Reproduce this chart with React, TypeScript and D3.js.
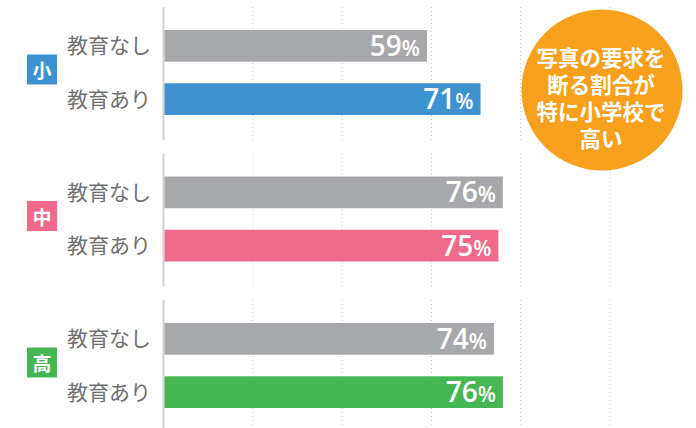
import React from "react";
import * as d3 from "d3";

const groups = ["小", "中", "高"];
const groupColors = ["#3d92cf", "#f06b8b", "#46b653"];
const rowLabels = ["教育なし", "教育あり"];
const withoutEdu = [59, 76, 74];
const withEdu = [71, 75, 76];
const xTicks = [20, 40, 60, 80, 100];
const calloutLines = ["写真の要求を", "断る割合が", "特に小学校で", "高い"];

const W = 696;
const H = 428;
const GREY = "#a7a8ab";
const JP = "'Noto Sans CJK JP', 'Noto Sans', sans-serif";
const NUM = "'Open Sans', 'Noto Sans', sans-serif";

export default function App() {
  const x = d3.scaleLinear().domain([0, 100]).range([163.5, 610]);
  const groupTop = d3.scaleLinear().domain([0, groups.length - 1]).range([30, 323]);
  const row = d3.scaleBand<string>().domain(rowLabels).range([0, 85]).paddingInner(0.405).paddingOuter(0);
  const bw = row.bandwidth();

  return (
    <svg width={W} height={H} style={{ position: "absolute", left: 0, top: 0, background: "#fff" }}>
      {groups.map((g, gi) => {
        const top = groupTop(gi);
        const segTop = top - 23;
        const segBot = top + 110;
        const vals = [withoutEdu[gi], withEdu[gi]];
        const colors = [GREY, groupColors[gi]];
        const badgeCy = top + 85 / 2 - 3;
        return (
          <g key={g}>
            {xTicks.map((t) => (
              <line key={t} x1={x(t)} x2={x(t)} y1={segTop} y2={segBot} stroke="#c4c4c4" strokeWidth={1} strokeDasharray="1 3" />
            ))}
            <line x1={x(0)} x2={x(0)} y1={segTop} y2={segBot} stroke="#d2d2d2" strokeWidth={2} />
            {rowLabels.map((r, ri) => {
              const y0 = top + (row(r) as number);
              const cy = y0 + bw / 2;
              return (
                <g key={r}>
                  <rect x={x(0) + 1} y={y0} width={x(vals[ri]) - x(0) - 1} height={bw} fill={colors[ri]} />
                  <text x={151} y={cy - 1.5} textAnchor="end" dominantBaseline="central" fontFamily={JP} fontSize={21} fill="#707070">
                    {r}
                  </text>
                  <text x={x(vals[ri]) - 7} y={cy + 10} textAnchor="end" fontFamily={NUM} fontWeight={600} fill="#fff">
                    <tspan fontSize={28}>{vals[ri]}</tspan>
                    <tspan fontSize={21}>%</tspan>
                  </text>
                </g>
              );
            })}
            <rect x={27} y={badgeCy - 15} width={30} height={30} fill={groupColors[gi]} />
            <text x={42} y={badgeCy} textAnchor="middle" dominantBaseline="central" fontFamily={JP} fontWeight={700} fontSize={19} fill="#fff">
              {g}
            </text>
          </g>
        );
      })}
      <circle cx={602} cy={90} r={80.5} fill="#f6a01e" />
      <text textAnchor="middle" fontFamily={JP} fontWeight={700} fontSize={21.5} fill="#fff">
        {calloutLines.map((l, i) => (
          <tspan key={i} x={601} y={58 + i * 27.3 + 7.5}>
            {l}
          </tspan>
        ))}
      </text>
    </svg>
  );
}
